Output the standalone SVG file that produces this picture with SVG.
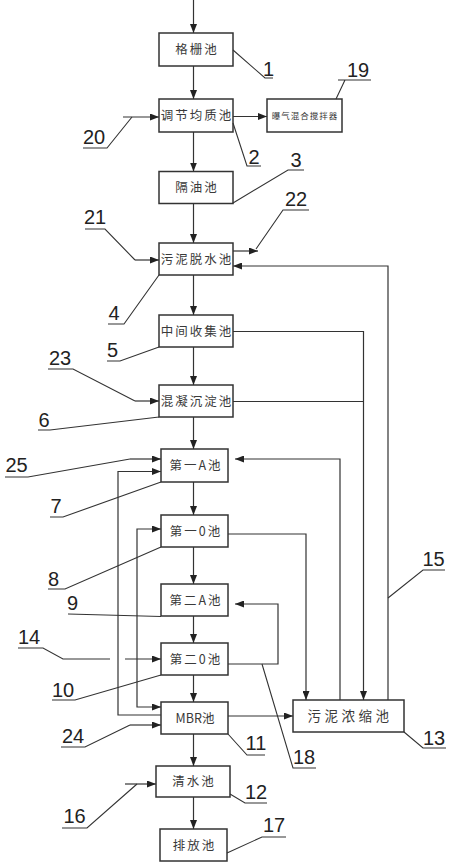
<svg xmlns="http://www.w3.org/2000/svg" width="450" height="868" viewBox="0 0 450 868">
<style>
.bx{fill:#fff;stroke:#333;stroke-width:1.5}
.t{font-family:"Noto Sans CJK SC","Noto Sans",sans-serif;font-size:12.5px;fill:#3a3a3a;text-anchor:middle;letter-spacing:2px}
.ts{font-family:"Noto Sans CJK SC","Noto Sans",sans-serif;font-size:8.5px;fill:#333;text-anchor:middle;letter-spacing:1px}
.c{fill:none;stroke:#333;stroke-width:1.2}
.a{marker-end:url(#ah)}
.n{font-family:"Liberation Sans",Arial,sans-serif;font-size:20px;fill:#222;text-anchor:middle}
.l{fill:none;stroke:#333;stroke-width:1.1}
</style>
<defs>
<marker id="ah" markerUnits="userSpaceOnUse" markerWidth="9" markerHeight="7" refX="9" refY="3.5" orient="auto">
<path d="M0,0 L9,3.5 L0,7 z" fill="#222"/>
</marker>
</defs>
<rect width="450" height="868" fill="#fff"/>

<g id="connectors">
<line class="c a" x1="193.5" y1="0" x2="193.5" y2="33"/>
<line class="c a" x1="193.5" y1="66" x2="193.5" y2="99"/>
<line class="c a" x1="193.5" y1="132" x2="193.5" y2="171.5"/>
<line class="c a" x1="193.5" y1="203.5" x2="193.5" y2="243"/>
<line class="c a" x1="193.5" y1="275" x2="193.5" y2="315"/>
<line class="c a" x1="193.5" y1="347" x2="193.5" y2="385"/>
<line class="c a" x1="193.5" y1="417" x2="193.5" y2="449"/>
<line class="c a" x1="193.5" y1="482" x2="193.5" y2="515"/>
<line class="c a" x1="193.5" y1="547" x2="193.5" y2="584"/>
<line class="c a" x1="193.5" y1="616" x2="193.5" y2="643"/>
<line class="c a" x1="193.5" y1="675" x2="193.5" y2="702"/>
<line class="c a" x1="193.5" y1="734" x2="193.5" y2="766"/>
<line class="c a" x1="193.5" y1="797" x2="193.5" y2="829"/>

<line class="c a" x1="233" y1="116.5" x2="267" y2="116.5"/>
<line class="c a" x1="123" y1="117" x2="159" y2="117"/>
<line class="c a" x1="135" y1="260" x2="159" y2="260"/>
<line class="c a" x1="233" y1="251" x2="258" y2="251"/>
<path class="c a" d="M388,700 V266 H233"/>
<path class="c a" d="M233,331.5 H363.5 V700"/>
<path class="c" d="M233,401.5 H363.5"/>
<line class="c a" x1="135" y1="401" x2="159" y2="401"/>
<path class="c a" d="M340,700 V459 H235"/>
<line class="c a" x1="130" y1="459" x2="161" y2="459"/>
<path class="c a" d="M161,715 H118 V471.5 H161"/>
<path class="c a" d="M137,620 V529 H161"/>
<path class="c a" d="M137,620 V707 H161"/>
<path class="c a" d="M228,534 H306 V700"/>
<path class="c a" d="M228,664 H278 V604 H235"/>
<line class="c a" x1="125" y1="659" x2="161" y2="659"/>
<line class="c a" x1="228" y1="716" x2="293" y2="716"/>
<line class="c a" x1="130" y1="725" x2="161" y2="725"/>
<line class="c a" x1="125" y1="784" x2="156" y2="784"/>
</g>

<g id="node1"><rect class="bx" x="159" y="33" width="74" height="33"/><text class="t" x="197" y="54">格栅池</text></g>
<g id="node2"><rect class="bx" x="159" y="99" width="74" height="33"/><text class="t" x="197" y="120">调节均质池</text></g>
<g id="node19"><rect class="bx" x="267" y="99" width="75" height="33"/><text class="ts" x="305" y="119">曝气混合搅拌器</text></g>
<g id="node3"><rect class="bx" x="159" y="171.5" width="74" height="32"/><text class="t" x="197" y="192">隔油池</text></g>
<g id="node4"><rect class="bx" x="159" y="243" width="74" height="32"/><text class="t" x="197" y="263.5">污泥脱水池</text></g>
<g id="node5"><rect class="bx" x="159" y="315" width="74" height="32"/><text class="t" x="197" y="335.5">中间收集池</text></g>
<g id="node6"><rect class="bx" x="159" y="385" width="74" height="32"/><text class="t" x="197" y="405.5">混凝沉淀池</text></g>
<g id="node7"><rect class="bx" x="161" y="449" width="67" height="33"/><text class="t" x="196" y="470">第一A池</text></g>
<g id="node8"><rect class="bx" x="161" y="515" width="67" height="32"/><text class="t" x="196" y="535.5">第一0池</text></g>
<g id="node9"><rect class="bx" x="161" y="584" width="67" height="32"/><text class="t" x="196" y="604.5">第二A池</text></g>
<g id="node10"><rect class="bx" x="161" y="643" width="67" height="32"/><text class="t" x="196" y="663.5">第二0池</text></g>
<g id="node11"><rect class="bx" x="161" y="702" width="67" height="32"/><text class="t" x="195" y="722.5" style="letter-spacing:0">MBR池</text></g>
<g id="node12"><rect class="bx" x="156" y="766" width="74" height="31"/><text class="t" x="194" y="786">清水池</text></g>
<g id="node17"><rect class="bx" x="160" y="829" width="67" height="32"/><text class="t" x="194.5" y="849.5">排放池</text></g>
<g id="node13"><rect class="bx" x="293" y="700" width="111" height="32"/><text class="t" x="350" y="721" style="font-size:13.5px;letter-spacing:3.5px">污泥浓缩池</text></g>

<g id="labels">
<path class="l" d="M233,50 L265,78 H273"/><text class="n" x="268.5" y="76">1</text>
<path class="l" d="M233,123 L247,166 H261"/><text class="n" x="254" y="164">2</text>
<path class="l" d="M233,203 L288,170 H304"/><text class="n" x="296" y="167">3</text>
<path class="l" d="M336,99 L345,80 M338,80 H371"/><text class="n" x="358" y="77">19</text>
<path class="l" d="M132,117 L107,148 H83"/><text class="n" x="94" y="144">20</text>
<path class="l" d="M135,260 L105,229 H85"/><text class="n" x="95" y="224">21</text>
<path class="l" d="M256,249 L283,210 H309"/><text class="n" x="296" y="206">22</text>
<path class="l" d="M159,275 L124,324 H108"/><text class="n" x="114" y="320">4</text>
<path class="l" d="M159,347 L120,361 H107"/><text class="n" x="112.5" y="357">5</text>
<path class="l" d="M135,401 L73,369 H48"/><text class="n" x="60" y="365">23</text>
<path class="l" d="M159,417 L50,430 H38"/><text class="n" x="44" y="427">6</text>
<path class="l" d="M130,459 L28,477 H5"/><text class="n" x="16.5" y="472">25</text>
<path class="l" d="M161,482 L63,517 H50"/><text class="n" x="56" y="513">7</text>
<path class="l" d="M161,547 L65,589 H48"/><text class="n" x="53.5" y="586">8</text>
<path class="l" d="M161,616.5 L68,614"/><text class="n" x="72.5" y="610">9</text>
<path class="l" d="M388,598 L423,570 H445"/><text class="n" x="433.5" y="566">15</text>
<path class="l" d="M18,648 H43 L63,659 H110"/><text class="n" x="29" y="644">14</text>
<path class="l" d="M161,675 L75,700 H52"/><text class="n" x="63" y="697">10</text>
<path class="l" d="M130,725 L85,747 H61"/><text class="n" x="73" y="743">24</text>
<path class="l" d="M228,734 L247,755 H265"/><text class="n" x="256" y="750">11</text>
<path class="l" d="M262,664 L293,768 H316"/><text class="n" x="304" y="764">18</text>
<path class="l" d="M404,732 L423,748 H446"/><text class="n" x="434" y="745">13</text>
<path class="l" d="M230,794 L245,803 H267"/><text class="n" x="256" y="799">12</text>
<path class="l" d="M137,784 L87,828 H62"/><text class="n" x="74.5" y="823">16</text>
<path class="l" d="M227,853 L262,837 H286"/><text class="n" x="274" y="832">17</text>
</g>
</svg>
